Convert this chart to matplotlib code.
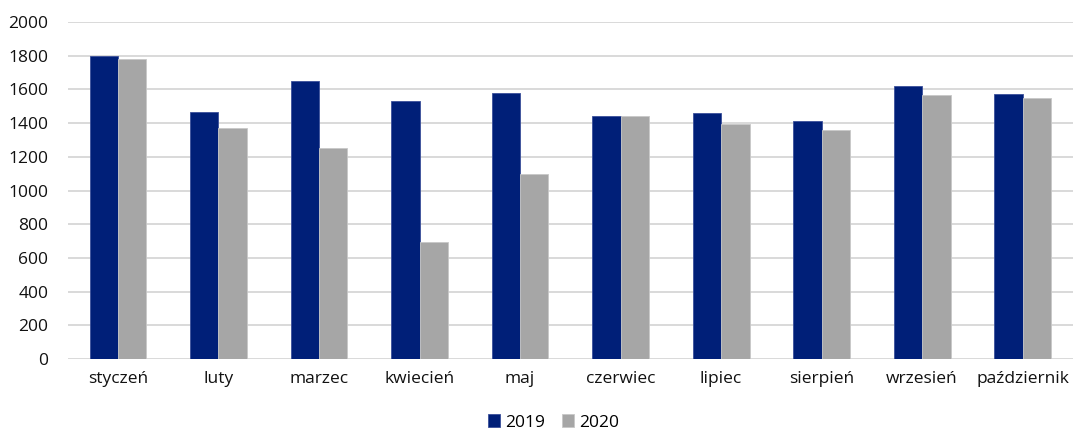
import matplotlib
matplotlib.use("Agg")
import matplotlib.pyplot as plt
import numpy as np

categories = ["styczeń", "luty", "marzec", "kwiecień", "maj", "czerwiec",
              "lipiec", "sierpień", "wrzesień", "październik"]
values_2019 = [1800, 1464, 1652, 1533, 1581, 1445, 1462, 1413, 1620, 1573]
values_2020 = [1780, 1374, 1253, 693, 1099, 1440, 1395, 1360, 1565, 1549]
yticks = [0, 200, 400, 600, 800, 1000, 1200, 1400, 1600, 1800, 2000]

plt.rcParams['font.family'] = ['Open Sans', 'DejaVu Sans']

fig = plt.figure(figsize=(10.75, 4.34), dpi=100)
ax = fig.add_axes([0.063, 0.173, 0.935, 0.776])

x = np.arange(len(categories))
w = 0.283
ax.bar(x - w/2, values_2019, w, color="#001F78", edgecolor="#3A4F9A", linewidth=0.6, label="2019", zorder=3)
ax.bar(x + w/2, values_2020, w, color="#A6A6A6", edgecolor="#C8C8C8", linewidth=0.6, label="2020", zorder=3)

ax.set_xlim(-0.5, len(categories) - 0.5)
ax.set_ylim(0, 2000)
ax.set_yticks(yticks)
ax.set_xticks(x)
ax.set_xticklabels(categories)
ax.tick_params(axis='both', length=0, labelsize=12.5, colors="#111111")
ax.tick_params(axis='x', pad=9)
ax.tick_params(axis='y', pad=14)
for s in ax.spines.values():
    s.set_visible(False)
ax.grid(axis='y', color="#D9D9D9", linewidth=1.4, zorder=0)
ax.set_axisbelow(True)

fig.legend(loc='lower center', bbox_to_anchor=(0.515, -0.028), ncol=2, frameon=False,
           fontsize=12.5, handlelength=0.7, handleheight=0.7, handletextpad=0.3,
           columnspacing=1.0)

fig.savefig("out.png", dpi=100)
